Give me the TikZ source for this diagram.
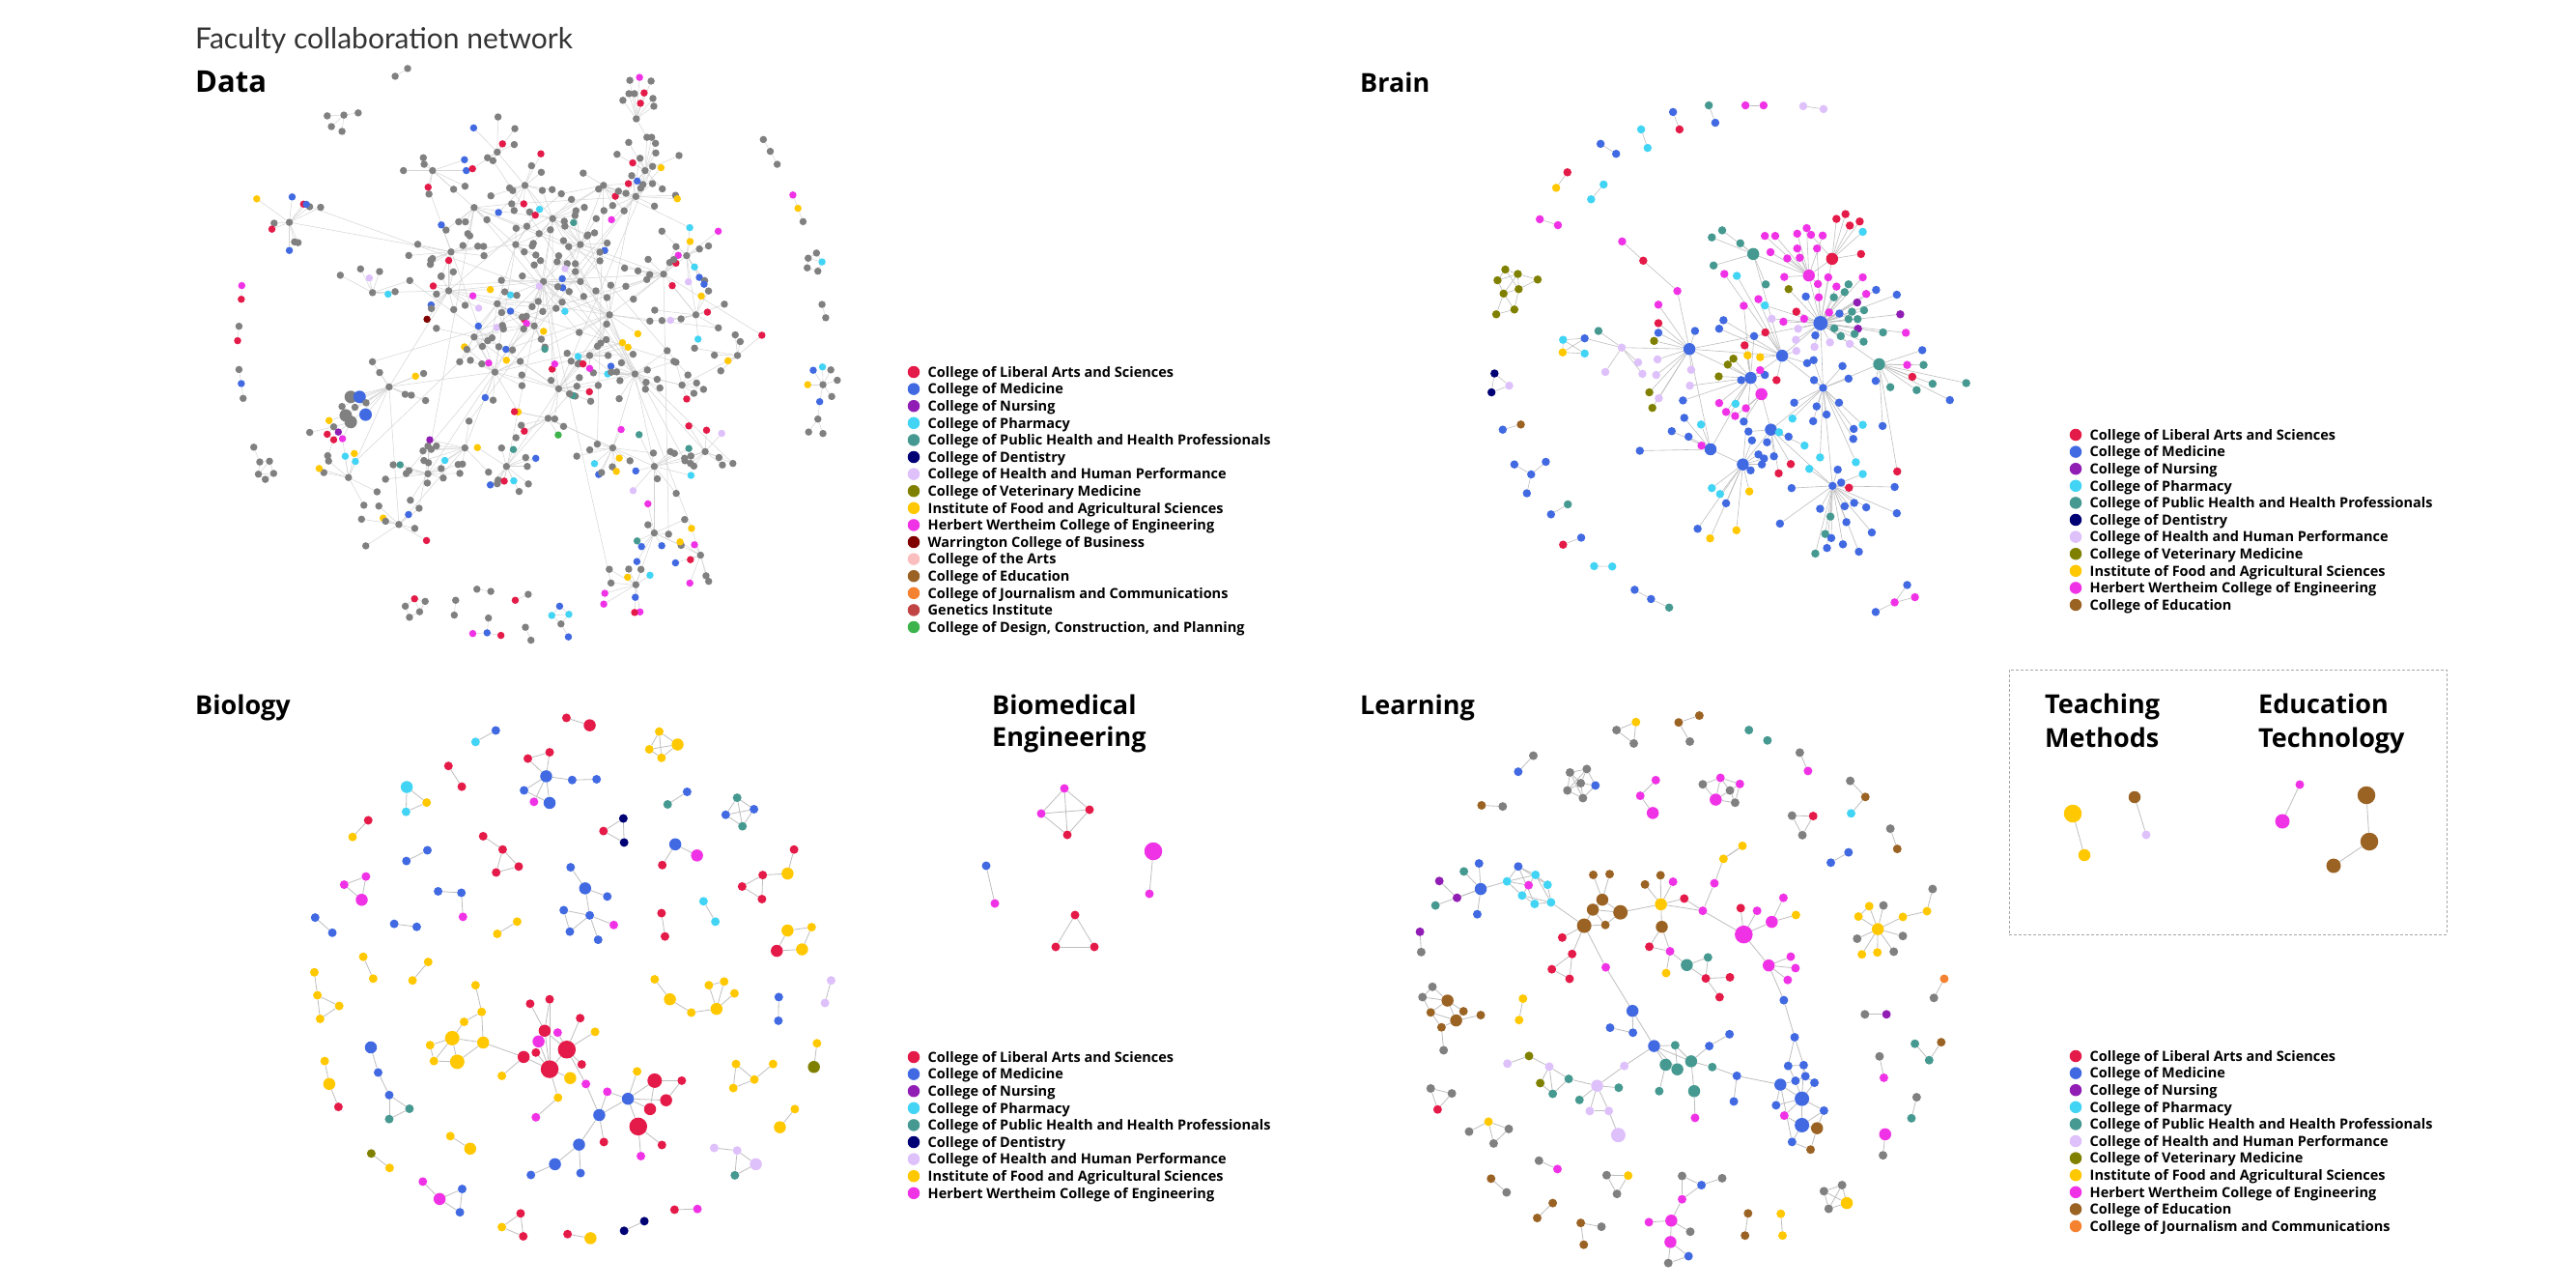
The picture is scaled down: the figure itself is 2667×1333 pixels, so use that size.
\documentclass[tikz,border=0pt]{standalone}
\usepackage{fontspec}
\setmainfont{Open Sans}
\newfontfamily\titlefont{Lato}
\usetikzlibrary{positioning}

\definecolor{lib}{RGB}{228,26,72}
\definecolor{med}{RGB}{65,105,225}
\definecolor{nur}{RGB}{145,30,180}
\definecolor{pha}{RGB}{66,212,244}
\definecolor{pub}{RGB}{70,153,144}
\definecolor{den}{RGB}{0,0,117}
\definecolor{hhp}{RGB}{222,192,250}
\definecolor{vet}{RGB}{128,128,0}
\definecolor{ifa}{RGB}{255,200,0}
\definecolor{eng}{RGB}{240,50,230}
\definecolor{bus}{RGB}{128,0,0}
\definecolor{art}{RGB}{250,190,190}
\definecolor{edu}{RGB}{154,99,36}
\definecolor{jou}{RGB}{245,130,48}
\definecolor{gen}{RGB}{192,68,68}
\definecolor{des}{RGB}{60,180,75}
\definecolor{gr}{RGB}{128,128,128}
\definecolor{edgecol}{RGB}{190,190,190}
\definecolor{dedgecol}{RGB}{212,212,212}

\pgfdeclarelayer{bg}
\pgfdeclarelayer{edges}
\pgfsetlayers{bg,edges,main}

\pgfmathdeclarerandomlist{datacol}{{gr}{gr}{gr}{gr}{gr}{gr}{gr}{gr}{gr}{gr}{gr}{gr}{gr}{gr}{gr}{gr}{gr}{gr}{gr}{gr}{gr}{gr}{gr}{gr}{lib}{lib}{lib}{med}{med}{med}{ifa}{ifa}{eng}{eng}{pub}{pha}{hhp}}

% one legend: name prefix, dot x, first row y, list of colour/text
\newcommand\drawlegend[4]{%
  \foreach \col/\txt [count=\k] in {#4}{
    \node[legdot, fill=\col] (#1d\k) at (#2,{#3+17.6*(\k-1)}) {};
    \node[legtext] (#1t\k) at ([xshift=14.5pt,yshift=-5.2pt]#1d\k.center) {\txt};
  }}

\begin{document}
\begin{tikzpicture}[x=1pt,y=-1pt,
  netdot/.style={circle, inner sep=0pt, draw=none},
  ddot/.style={netdot, minimum size=7.5pt},
  ddotB/.style={netdot, minimum size=13pt},
  bdot/.style={netdot, minimum size=8.5pt},
  dotS/.style={netdot, minimum size=9pt},
  dotM/.style={netdot, minimum size=12.5pt},
  dotB/.style={netdot, minimum size=15pt},
  dotH/.style={netdot, minimum size=18.5pt},
  edge/.style={draw=edgecol, line width=0.8pt},
  dedge/.style={draw=dedgecol, line width=0.5pt},
  head/.style={font=\fontsize{27}{32}\selectfont\bfseries, anchor=base west, inner sep=0pt},
  legdot/.style={netdot, minimum size=12.5pt},
  legtext/.style={font=\fontsize{14.5}{17}\selectfont\bfseries, anchor=base west, inner sep=0pt}]

\useasboundingbox (0,0) rectangle (2667,1333);
\begin{pgfonlayer}{bg}
  \fill[white] (0,0) rectangle (2667,1333);
\end{pgfonlayer}

% titles
\node[font=\titlefont\fontsize{30}{36}\selectfont, text=black!80, anchor=base west, inner sep=0pt] (title) at (202,50) {Faculty collaboration network};
\node[head, font=\fontsize{31}{36}\selectfont\bfseries] (hdata) at (202,95) {Data};
\node[head] (hbrain) at (1408,95) {Brain};
\node[head] (hbio) at (202,739) {Biology};
\node[head] (hlearn) at (1408,739) {Learning};
\node[head] (hbme1) at (1027,739) {Biomedical};
\node[head] (hbme2) at (1027,772) {Engineering};
\node[head] (hteach1) at (2117,738) {Teaching};
\node[head] (hteach2) at (2117,773) {Methods};
\node[head] (hedtech1) at (2338,738) {Education};
\node[head] (hedtech2) at (2338,773) {Technology};

% ---------------- Data ----------------
\pgfmathsetseed{11}
\begin{scope}[shift={(180,100)}, xscale=0.4783, yscale=0.3827]
  \foreach \n/\x/\y in {1/800/500, 2/595/525, 3/695/745, 4/833/790, 5/998/750, 6/943/590,
      7/820/330, 8/1000/270, 9/930/240, 10/1060/480, 11/650/300, 12/466/785, 13/250/340,
      14/1040/1000, 15/1040/1180, 16/1000/1320, 17/487/1157, 18/378/1030, 19/1150/960,
      20/1140/1240, 21/880/400, 22/740/400, 23/560/200, 24/1110/430, 25/430/530, 26/810/870,
      27/630/950, 28/720/1000, 29/1100/780, 30/1130/590, 31/700/150, 32/760/240, 33/1220/700,
      34/550/1020, 35/1020/200, 36/600/420, 37/780/620, 38/900/700, 39/700/560, 40/650/650,
      41/950/950, 42/880/500}{
    \node[ddot, fill=gr] (dh\n) at (\x,\y) {};
    \pgfmathtruncatemacro{\nl}{random(7,13)}
    \expandafter\xdef\csname dnl\n\endcsname{\nl}
    \foreach \m in {1,...,\nl}{
      \pgfmathrandomitem{\col}{datacol}
      \pgfmathsetmacro{\a}{random(0,359)}
      \pgfmathsetmacro{\r}{random(25,95)}
      \node[ddot, fill=\col] (dl\n-\m) at ({\x+\r*cos(\a)},{\y+\r*sin(\a)}) {};
    }
  }
  \foreach \n/\x/\y/\col in {t1/332/52/gr, t2/368/50/gr, t3/399/44/gr, t4/341/81/gr, t5/364/94/gr,
      u1/479/-55/gr, u2/506/-76/gr,
      top/1001/60/gr, v0/1024/110/gr, v1/987/-44/gr, v2/1008/-52/eng, v3/1033/-42/gr, v4/985/-8/gr,
      v5/997/-8/gr, v6/1018/-10/lib, v7/972/10/gr, v8/1010/18/lib, v9/1037/5/gr, v10/1039/26/gr,
      r1/1276/116/gr, r2/1291/148/gr, r3/1306/183/gr, r4/1340/266/eng, r5/1351/302/ifa, r6/1362/338/gr,
      q1/1391/423/gr, q2/1373/437/gr, q3/1403/447/pha, q4/1371/463/gr, q5/1394/472/gr,
      o1/1403/562/gr, o2/1411/598/gr,
      w0/1405/779/gr, w1/1384/740/med, w2/1404/731/pha, w3/1422/739/gr, w4/1372/779/ifa, w5/1436/767/gr,
      w6/1424/811/gr, w7/1398/825/med, w8/1394/872/gr, w9/1374/907/gr, w10/1405/911/gr,
      l1/147/511/eng, l2/146/548/lib, l3/141/621/gr, l4/138/660/lib, l5/141/738/gr, l6/146/776/med, l7/150/816/gr,
      k1/173/948/gr, k2/186/988/gr, k3/207/986/gr, k4/183/1021/gr, k5/216/1019/gr, k6/198/1035/gr,
      b1/521/1358/lib, b2/544/1365/gr, b3/501/1378/gr, b4/532/1393/gr, b5/510/1408/gr,
      b6/610/1362/gr, b7/607/1402/gr, b8/656/1332/gr, b9/686/1338/gr, b10/739/1362/lib, b11/767/1346/gr,
      b12/681/1410/gr, b13/678/1450/med, b14/647/1452/eng, b15/708/1457/lib, b16/761/1435/gr, b17/773/1470/gr,
      b18/835/1378/med, b19/818/1403/pha, b20/855/1400/pha, b21/838/1426/gr, b22/854/1461/med}
    \node[ddot, fill=\col] (dp\n) at (\x,\y) {};
  \foreach \n/\x/\y/\col/\sz in {g1/383/812/gr/ddotB, g2/402/812/med/ddotB, g3/416/828/gr/ddot,
      g4/372/862/gr/ddotB, g5/415/860/med/ddotB, g6/383/880/gr/ddotB, g7/392/840/gr/ddot, g8/364/838/gr/ddot,
      g9/336/876/ifa/ddot, g10/346/893/gr/ddot, g11/332/913/lib/ddot, g12/356/907/nur/ddot,
      g13/346/928/lib/ddot, g14/365/925/eng/ddot, g15/294/908/gr/ddot, g16/333/971/gr/ddot}
    \node[\sz, fill=\col] (dp\n) at (\x,\y) {};
  \node[ddot, fill=bus] (dpbus) at (548,602) {};
  \node[ddot, fill=des] (dpdes) at (832,915) {};
  \node[ddot, fill=nur] (dpnur) at (554,928) {};
\end{scope}
\begin{pgfonlayer}{edges}
  \foreach \n in {1,...,42}{
    \edef\nl{\csname dnl\n\endcsname}
    \foreach \m in {1,...,\nl}
      \draw[dedge] (dh\n) -- (dl\n-\m);
    % a few cross links from leaves to other hubs
    \pgfmathtruncatemacro{\m}{random(1,\nl)}
    \pgfmathtruncatemacro{\o}{random(1,11)}
    \draw[dedge] (dl\n-\m) -- (dh\o);
  }
  \foreach \a/\b in {2/1, 3/1, 4/1, 6/1, 5/6, 7/1, 8/9, 9/7, 10/6, 11/22, 12/3, 13/36, 14/5, 15/14,
      16/15, 17/12, 18/12, 19/14, 20/15, 21/7, 22/1, 23/11, 24/10, 25/2, 26/4, 27/3, 28/26, 29/5, 30/10,
      31/32, 32/7, 33/29, 34/27, 35/8, 36/2, 2/6, 3/6, 4/6, 21/10, 22/3, 11/7, 36/22, 1/21, 4/5, 3/4,
      28/4, 27/17, 34/3, 12/2, 9/21, 24/30, 5/19, 26/14, 37/1, 37/39, 38/6, 38/4, 39/40, 40/3,
      41/5, 41/26, 42/1, 42/6, 37/40, 39/22}
    \draw[dedge] (dh\a) -- (dh\b);
  \foreach \a/\b in {t1/t2, t2/t3, t2/t4, t2/t5, u1/u2, top/v0, top/v1, top/v2, top/v3, top/v4, top/v5,
      top/v6, top/v7, top/v8, top/v9, top/v10, r1/r2, r2/r3, r4/r5, r5/r6, q1/q2, q1/q3, q2/q4, q4/q5,
      q3/q5, q2/q3, o1/o2, w0/w1, w0/w2, w0/w3, w0/w4, w0/w5, w0/w6, w0/w7, w7/w8, w8/w9, w8/w10,
      l1/l2, l3/l4, l5/l6, l6/l7, k1/k2, k2/k3, k2/k4, k3/k5, k4/k6, k5/k6, k4/k5, k3/k4,
      b1/b2, b1/b3, b1/b4, b3/b5, b4/b5, b2/b4, b6/b7, b8/b9, b10/b11, b12/b13, b13/b14, b13/b15,
      b16/b17, b18/b19, b18/b20, b19/b21, b20/b21, b19/b20, b21/b22,
      g4/g9, g6/g10, g6/g12, g10/g11, g12/g13, g6/g14, g10/g15, g13/g16}
    \draw[dedge] (dp\a) -- (dp\b);
  \foreach \g in {g1,g2,g3,g4,g5,g6,g7,g8}
    \draw[dedge] (dh12) -- (dp\g);
  \draw[dedge] (dpv0) -- (dh35);
  \draw[dedge] (dpg14) -- (dh18);
  \draw[dedge] (dpbus) -- (dh2);
  \draw[dedge] (dpdes) -- (dh26);
  \draw[dedge] (dpnur) -- (dh27);
\end{pgfonlayer}

% ---------------- Brain ----------------
\begin{scope}[shift={(1500,150)}, xscale=0.4464, yscale=0.3827]
  \foreach \n/\x/\y/\col/\sz in {1/862/482/med/dotB, 2/558/552/med/dotM, 3/773/570/med/dotM,
      4/700/630/med/dotM, 5/682/864/med/dotM, 6/607/823/med/dotM, 7/868/657/med/bdot,
      8/998/593/pub/dotM, 9/889/308/lib/dotM, 10/835/353/eng/dotM, 11/401/548/hhp/bdot,
      12/890/922/med/bdot, 13/747/770/med/dotM, 14/706/295/pub/dotM, 15/725/674/eng/dotM}
    \node[\sz, fill=\col] (bh\n) at (\x,\y) {};
  \foreach \x/\y/\col/\h [count=\k] in {733/246/eng/10, 757/246/eng/10, 746/290/eng/10, 808/240/eng/10,
      830/225/eng/10, 840/243/eng/9, 867/245/eng/10, 808/280/eng/10, 785/307/eng/10, 814/305/eng/10,
      854/280/eng/1, 899/200/lib/9, 920/187/lib/9, 930/218/lib/9, 953/207/lib/9, 960/235/pha/9,
      956/295/lib/9, 778/357/eng/10, 856/376/eng/10, 880/358/eng/1, 899/383/eng/1, 960/358/eng/1,
      858/412/eng/1, 893/412/pub/1, 918/398/pub/1, 927/377/pub/1, 968/403/eng/1,
      610/250/pub/14, 634/231/pub/14, 676/266/pub/14, 614/326/pub/14, 735/377/pub/14,
      639/349/eng/3, 668/354/pha/3, 788/390/vet/1, 828/410/med/1,
      718/417/eng/3, 733/434/pha/1, 684/435/eng/4, 806/451/lib/1, 882/453/eng/1, 906/456/med/1,
      947/426/nur/1, 949/497/nur/1, 1047/458/nur/1, 935/451/pub/1, 963/447/pub/1, 927/471/pub/1,
      948/471/pub/1, 894/496/pub/1, 909/517/pub/1, 941/511/pub/1, 962/532/pub/1, 1007/507/pub/1,
      1060/508/eng/1, 749/470/hhp/1, 776/478/eng/1, 824/470/eng/1, 810/497/hhp/1, 805/527/hhp/1,
      806/557/hhp/3, 848/546/hhp/1, 884/534/hhp/1, 930/538/hhp/1, 850/515/med/1, 734/507/lib/3,
      708/517/med/4, 991/392/med/1, 1039/405/med/1,
      1063/595/eng/8, 1101/595/pub/8, 1098/555/med/8, 1075/627/lib/8, 1024/655/pub/8, 1085/663/pub/8,
      1122/646/pub/8, 1200/644/pub/8, 1162/690/med/8, 990/638/med/8, 927/632/med/7,
      347/503/pub/11, 363/614/hhp/11, 439/588/hhp/11, 449/619/hhp/11, 484/580/hhp/2, 481/622/hhp/2,
      562/608/hhp/2, 559/651/hhp/4, 486/432/eng/2, 486/482/lib/2, 486/508/med/2, 476/530/vet/2,
      465/669/vet/2, 487/685/hhp/2, 472/711/vet/2, 571/503/med/2, 627/497/med/3, 637/474/med/3,
      733/622/med/4, 722/609/eng/4, 760/636/lib/3, 660/578/vet/4, 647/594/vet/4, 626/626/vet/4,
      693/569/ifa/4, 722/574/ifa/3, 686/542/lib/4, 678/636/med/4,
      543/691/med/4, 546/738/med/6, 517/774/med/6, 556/789/med/6, 443/827/med/6, 627/698/eng/4,
      643/722/eng/4, 664/733/eng/15, 689/712/eng/15, 665/700/pha/4, 684/748/med/15, 585/756/pha/6,
      586/813/eng/6, 695/775/med/13, 766/777/pha/13, 788/789/med/13, 703/799/med/5, 738/804/med/13,
      718/837/med/5, 754/842/med/13, 731/848/med/5, 726/864/med/5, 700/880/med/5, 765/888/lib/13,
      793/863/lib/13, 610/928/pha/5, 629/944/pha/5, 643/969/med/5, 577/1038/med/5, 606/1064/ifa/5,
      697/937/ifa/5, 667/1042/ifa/5, 768/1024/med/12,
      801/697/med/7, 797/740/pha/7, 845/747/med/7, 853/707/med/7, 876/729/med/7, 905/697/med/7,
      847/636/med/7, 831/590/med/3, 846/582/med/7, 913/598/med/7,
      825/813/pha/13, 861/845/pha/7, 836/876/pha/12, 902/878/med/12, 944/858/pha/7, 960/890/pha/12,
      960/757/pha/7, 939/768/med/7, 938/795/med/7, 1006/760/med/8, 1040/883/lib/8, 1034/925/med/12,
      1039/996/med/12, 795/928/med/12, 910/913/med/12, 928/927/lib/12, 918/977/med/12, 940/968/med/12,
      968/980/med/12, 922/1020/med/12, 981/1048/med/12, 951/1100/med/12, 885/1005/pub/12,
      873/1052/pub/12, 887/1063/med/12, 877/1090/med/12, 914/1080/med/12, 850/1105/pub/12, 861/984/med/12}{
    \node[bdot, fill=\col] (bl\k) at (\x,\y) {};
    \expandafter\xdef\csname bhub\k\endcsname{\h}
    \xdef\bleaves{\k}
  }
  \foreach \n/\x/\y/\col in {x1/402/261/eng, x2/451/313/lib, x3/530/395/eng,
      y1/265/527/pha, y2/315/523/med, y3/264/561/ifa, y4/315/564/pha,
      a1/352/-3/med, a2/388/24/med, b1/446/-42/pha, b2/461/8/pha, c1/520/-89/med, c2/535/-42/lib,
      d1/603/-107/pub, d2/618/-60/med, e1/688/-107/eng, e2/730/-107/eng, f1/822/-105/hhp, f2/869/-97/hhp,
      g1/275/74/lib, g2/249/116/ifa, h1/359/107/pha, h2/330/147/pha, i1/211/201/eng, i2/253/217/eng,
      j1/131/337/vet, j2/113/366/vet, j3/160/349/vet, j4/206/364/vet, j5/127/402/vet, j6/162/390/vet,
      j7/110/458/vet, j8/152/445/vet, k1/106/618/den, k2/99/669/den, k3/140/651/hhp,
      l1/125/770/med, l2/167/756/edu, m1/152/864/med, m2/191/891/med, m3/225/857/med, m4/181/942/med,
      n1/237/999/med, n2/276/972/pub, o1/265/1081/lib, o2/307/1062/med, p1/337/1139/pha, p2/379/1140/pha,
      q1/431/1203/med, q2/469/1228/med, q3/511/1251/pub,
      r1/990/1263/med, r2/1034/1237/eng, r3/1063/1190/med, r4/1081/1223/eng}
    \node[bdot, fill=\col] (bp\n) at (\x,\y) {};
\end{scope}
\begin{pgfonlayer}{edges}
  \foreach \k in {1,...,\bleaves}{
    \edef\h{\csname bhub\k\endcsname}
    \draw[edge, line width=0.6pt] (bh\h) -- (bl\k);
  }
  \foreach \a/\b in {1/9, 1/10, 1/3, 1/8, 1/7, 2/3, 2/11, 3/4, 4/6, 4/5, 3/7, 7/12, 5/13, 13/7, 6/5,
      10/14, 9/10, 8/7, 4/15, 15/13, 2/4, 1/2, 14/3, 12/13, 2/6}
    \draw[edge, line width=0.6pt] (bh\a) -- (bh\b);
  \foreach \a/\b in {x1/x2, x2/x3, y1/y2, y1/y4, y3/y4, y3/y2, y1/y3, a1/a2, b1/b2, c1/c2, d1/d2,
      e1/e2, f1/f2, g1/g2, h1/h2, i1/i2, j1/j2, j1/j3, j2/j3, j1/j6, j2/j5, j3/j6, j3/j4, j6/j4, j5/j6,
      j5/j7, j6/j8, j7/j8, j5/j8, j3/j5, k1/k2, k1/k3, k2/k3, l1/l2, m1/m2, m2/m3, m2/m4, n1/n2,
      o1/o2, p1/p2, q1/q2, q2/q3, r1/r2, r2/r3, r2/r4}
    \draw[edge, line width=0.6pt] (bp\a) -- (bp\b);
  \draw[edge, line width=0.6pt] (bpx3) -- (bh2);
  \draw[edge, line width=0.6pt] (bpy2) -- (bh11);
\end{pgfonlayer}

% ---------------- Biology ----------------
\begin{scope}[shift={(280,720)}, xscale=0.3954, yscale=0.3827]
  \foreach \n/\x/\y/\col/\sz in {a1/775/60/lib/dotS, a2/836/80/lib/dotM, b1/537/125/pha/dotS, b2/590/94/med/dotS,
      c1/1018/97/ifa/dotS, c2/992/145/ifa/dotS, c3/1066/132/ifa/dotM, c4/1024/168/ifa/dotS,
      d1/466/190/lib/dotS, d2/501/246/lib/dotS,
      e1/674/170/lib/dotS, e2/731/153/lib/dotS, e3/722/218/med/dotM, e4/664/256/med/dotS,
      e5/690/287/eng/dotS, e6/731/290/med/dotM, e7/790/228/med/dotS, e8/854/226/med/dotS,
      f1/357/247/pha/dotM, f2/355/314/pha/dotS, f3/409/289/ifa/dotS, h1/1040/294/pub/dotS, h2/1091/260/med/dotS,
      i1/1222/276/pub/dotS, i2/1192/322/med/dotS, i3/1266/307/med/dotS, i4/1236/353/pub/dotS,
      j1/256/337/lib/dotS, j2/215/382/ifa/dotS, k1/872/366/lib/dotS, k2/924/332/den/dotS, k3/926/397/den/dotS,
      l1/356/447/med/dotS, l2/411/418/med/dotS,
      m1/557/380/lib/dotS, m2/608/416/lib/dotS, m3/591/478/lib/dotS, m4/650/462/lib/dotS,
      n1/1060/402/med/dotM, n2/1117/432/eng/dotM, n3/1026/458/lib/dotS,
      o1/1371/416/lib/dotS, o2/1354/481/ifa/dotM, o3/1289/485/lib/dotS, o4/1235/516/lib/dotS, o5/1287/550/lib/dotS,
      p1/193/511/eng/dotS, p2/250/489/eng/dotS, p3/239/552/eng/dotM,
      q1/439/529/med/dotS, q2/500/533/med/dotS, q3/504/598/eng/dotS,
      r1/786/464/med/dotS, r2/824/521/med/dotM, r3/882/543/med/dotS, r4/836/594/med/dotS,
      r5/768/580/med/dotS, r6/784/638/med/dotS, r7/899/620/eng/dotS, r8/858/660/med/dotS,
      s1/1134/556/pha/dotS, s2/1165/611/pha/dotS, t1/1024/588/lib/dotS, t2/1033/651/lib/dotS,
      u1/117/600/med/dotS, u2/162/641/med/dotS, v1/324/617/med/dotS, v2/383/625/med/dotS,
      w1/594/644/ifa/dotS, w2/646/611/ifa/dotS,
      x1/1354/635/ifa/dotM, x2/1417/626/ifa/dotS, x3/1392/686/ifa/dotM, x4/1326/690/lib/dotM,
      y1/243/706/ifa/dotS, y2/269/765/ifa/dotS, z1/413/720/ifa/dotS, z2/372/770/ifa/dotS,
      aa1/115/748/ifa/dotS, aa2/123/810/ifa/dotS, aa3/180/839/ifa/dotS, aa4/130/874/ifa/dotS,
      ab1/1468/770/hhp/dotS, ab2/1452/831/hhp/dotS, ac1/1331/815/med/dotS, ac2/1330/879/med/dotS,
      ad1/1006/767/ifa/dotS, ad2/1046/821/ifa/dotM, ad3/1102/857/ifa/dotS, ad4/1168/847/ifa/dotM,
      ad5/1148/783/ifa/dotS, ad6/1188/773/ifa/dotS, ad7/1215/805/ifa/dotS,
      cb1/537/783/ifa/dotS, cb2/553/855/ifa/dotS, cb3/507/882/ifa/dotS, cb4/476/926/ifa/dotB,
      cb5/418/945/ifa/dotS, cb6/428/988/ifa/dotS, cb7/489/990/ifa/dotB, cb8/557/938/ifa/dotM,
      cb9/663/977/lib/dotM, cb10/606/1028/ifa/dotS, cb11/731/1010/lib/dotH, cb12/680/833/lib/dotS,
      cb13/731/821/lib/dotS, cb14/718/906/lib/dotM, cb15/702/935/eng/dotM, cb16/695/965/lib/dotS,
      cb17/752/911/eng/dotS, cb18/776/957/lib/dotH, cb19/811/872/lib/dotS, cb20/850/909/ifa/dotS,
      cb21/815/997/lib/dotS, cb22/785/1034/ifa/dotM, cb23/753/1087/ifa/dotS, cb24/695/1140/eng/dotS,
      cb25/826/1050/eng/dotS, cb26/861/1134/med/dotM, cb27/882/1071/eng/dotS, cb28/936/1090/med/dotM,
      cb29/808/1214/med/dotM, cb30/745/1267/med/dotM, cb31/682/1296/med/dotS, cb32/812/1291/med/dotS,
      cb33/873/1207/lib/dotS, cb34/960/1016/ifa/dotS, cb35/1006/1041/lib/dotB, cb36/1036/1094/lib/dotM,
      cb37/994/1118/lib/dotM, cb38/1077/1041/lib/dotS, cb39/963/1165/lib/dotH, cb40/970/1245/eng/dotS,
      cb41/1025/1215/lib/dotS,
      ae1/1431/940/ifa/dotS, ae2/1423/1004/vet/dotM,
      af1/263/951/med/dotM, af2/282/1019/med/dotS, af3/311/1080/med/dotS, af4/364/1117/pub/dotS, af5/311/1145/pub/dotS,
      ag1/142/988/ifa/dotS, ag2/154/1050/ifa/dotM, ag3/178/1112/lib/dotS,
      ah1/1219/996/ifa/dotS, ah2/1267/1038/ifa/dotS, ah3/1212/1061/ifa/dotS, ah4/1316/996/ifa/dotS,
      ai1/1373/1118/ifa/dotS, ai2/1334/1167/ifa/dotM, aj1/471/1191/ifa/dotS, aj2/523/1225/ifa/dotM,
      ak1/264/1238/vet/dotS, ak2/312/1277/ifa/dotS,
      al1/1162/1223/hhp/dotS, al2/1222/1230/hhp/dotS, al3/1271/1267/hhp/dotM, al4/1216/1297/pub/dotS,
      am1/399/1314/eng/dotS, am2/443/1361/eng/dotM, am3/502/1334/med/dotS, am4/496/1397/med/dotS,
      an1/655/1400/lib/dotS, an2/606/1437/ifa/dotS, an3/662/1462/lib/dotS,
      ao1/778/1456/lib/dotS, ao2/838/1467/ifa/dotM, ap1/926/1447/den/dotS, ap2/979/1421/den/dotS,
      aq1/1058/1390/lib/dotS, aq2/1118/1388/eng/dotS}
    \node[\sz, fill=\col] (g\n) at (\x,\y) {};
\end{scope}
\begin{pgfonlayer}{edges}
  \foreach \a/\b in {a1/a2, b1/b2, c1/c2, c1/c3, c1/c4, c2/c3, c3/c4, c2/c4, d1/d2,
      e1/e2, e1/e3, e2/e3, e3/e4, e3/e5, e3/e6, e3/e7, e7/e8, e4/e6, f1/f2, f1/f3, f2/f3, h1/h2,
      i1/i2, i1/i3, i1/i4, i2/i3, i2/i4, i3/i4, j1/j2, k1/k2, k1/k3, k2/k3, l1/l2,
      m1/m2, m2/m3, m2/m4, m3/m4, n1/n2, n1/n3, o1/o2, o2/o3, o3/o4, o4/o5, o3/o5,
      p1/p2, p1/p3, p2/p3, q1/q2, q2/q3, r1/r2, r2/r3, r2/r4, r4/r5, r4/r6, r4/r7, r4/r8, r5/r6,
      s1/s2, t1/t2, u1/u2, v1/v2, w1/w2, x1/x2, x2/x3, x3/x4, x4/x1, y1/y2, z1/z2,
      aa1/aa2, aa2/aa3, aa3/aa4, aa2/aa4, ab1/ab2, ac1/ac2,
      ad1/ad2, ad2/ad3, ad3/ad4, ad4/ad5, ad4/ad6, ad4/ad7, ad5/ad6,
      cb1/cb2, cb2/cb8, cb2/cb3, cb3/cb4, cb4/cb5, cb4/cb6, cb4/cb7, cb5/cb6, cb6/cb7, cb7/cb8,
      cb4/cb8, cb8/cb9, cb9/cb10, cb9/cb11, cb12/cb14, cb13/cb14, cb14/cb11, cb14/cb18, cb15/cb11,
      cb16/cb11, cb17/cb18, cb18/cb19, cb18/cb20, cb18/cb21, cb11/cb22, cb11/cb18, cb11/cb23,
      cb23/cb24, cb18/cb25, cb25/cb26, cb26/cb27, cb27/cb28, cb26/cb28, cb26/cb29, cb29/cb30,
      cb30/cb31, cb29/cb32, cb26/cb33, cb28/cb34, cb28/cb35, cb28/cb36, cb28/cb37, cb35/cb38,
      cb36/cb38, cb35/cb37, cb28/cb39, cb39/cb40, cb39/cb41, cb13/cb11,
      ae1/ae2, af1/af2, af2/af3, af3/af4, af4/af5, af3/af5, ag1/ag2, ag2/ag3,
      ah1/ah2, ah1/ah3, ah3/ah2, ah2/ah4, ai1/ai2, aj1/aj2, ak1/ak2,
      al1/al2, al2/al3, al3/al4, al2/al4, am1/am2, am2/am3, am2/am4, am3/am4,
      an1/an2, an2/an3, an1/an3, ao1/ao2, ap1/ap2, aq1/aq2}
    \draw[edge] (g\a) -- (g\b);
\end{pgfonlayer}

% ---------------- Learning ----------------
\begin{scope}[shift={(1400,720)}, xscale=0.4464, yscale=0.3954]
  \foreach \n/\x/\y/\col/\sz in {a1/613/90/gr/dotS, a2/658/69/ifa/dotS, a3/653/125/gr/dotS,
      b1/757/70/edu/dotS, b2/805/52/edu/dotS, b3/783/120/gr/dotS, c1/920/90/pub/dotS, c2/963/117/pub/dotS,
      d1/420/157/gr/dotS, d2/385/199/med/dotS,
      e1/505/201/gr/dotS, e2/544/192/gr/dotS, e3/530/229/gr/dotS, e4/564/235/med/dotS, e5/499/248/gr/dotS, e6/535/268/gr/dotS,
      f1/704/221/eng/dotS, f2/668/262/eng/dotS, f3/697/307/eng/dotM,
      h1/813/232/gr/dotS, h2/854/215/eng/dotS, h3/899/231/eng/dotS, h4/876/248/gr/dotS, h5/843/272/eng/dotM, h6/888/280/gr/dotS,
      i1/1038/149/gr/dotS, i2/1057/197/eng/dotS, j1/1155/223/gr/dotS, j2/1190/265/edu/dotS, j3/1157/308/pha/dotS,
      k1/300/287/edu/dotS, k2/349/290/gr/dotS, m1/1020/314/gr/dotS, m2/1069/315/lib/dotS, m3/1044/365/gr/dotS,
      n1/1248/348/gr/dotS, n2/1264/401/edu/dotS, o1/1110/437/med/dotS, o2/1151/410/med/dotS,
      c1/905/393/ifa/dotS, c2/861/427/ifa/dotS, c3/840/491/eng/dotS, c4/813/563/eng/dotS,
      c5/202/485/nur/dotS, c6/243/529/nur/dotS, c7/298/506/med/dotM, c8/259/460/pub/dotS, c9/294/439/med/dotS,
      c10/193/549/pub/dotS, c11/290/572/med/dotS, c12/385/447/med/dotS, c13/359/486/pha/dotS,
      c14/425/469/pha/dotS, c15/409/496/eng/dotS, c16/453/495/pha/dotS, c17/394/523/pha/dotS,
      c18/423/545/pha/dotS, c19/461/541/pha/dotS, c20/538/602/edu/dotB, c21/559/469/edu/dotS,
      c22/597/467/edu/dotS, c23/580/534/edu/dotM, c24/558/560/edu/dotM, c25/622/567/edu/dotB,
      c26/587/600/edu/dotS, c27/716/546/ifa/dotM, c28/679/494/edu/dotS, c29/715/470/edu/dotS,
      c30/744/487/eng/dotS, c31/770/531/lib/dotS, c32/718/605/edu/dotM, c33/487/633/lib/dotS,
      c34/510/676/lib/dotS, c35/463/716/lib/dotS, c36/504/741/lib/dotS, c37/689/657/lib/dotS,
      c38/737/669/eng/dotS, c39/776/705/pub/dotM, c40/728/726/ifa/dotS, c41/825/685/pub/dotS,
      c42/820/740/lib/dotS, c43/876/737/lib/dotS, c44/852/789/lib/dotS, c45/908/625/eng/dotH,
      c46/901/556/lib/dotS, c47/939/563/eng/dotS, c48/973/592/eng/dotM, c49/1000/529/eng/dotS,
      c50/1029/574/ifa/dotS, c51/966/706/eng/dotM, c52/1017/683/eng/dotS, c53/1028/713/eng/dotS,
      c54/1010/744/eng/dotS, c55/1001/797/med/dotS, c56/1026/894/med/dotS,
      c57/1011/969/med/dotS, c58/1047/967/med/dotS, c59/1051/996/med/dotS, c60/1028/1008/med/dotS,
      c61/993/1018/med/dotM, c62/1072/1013/med/dotS, c63/1043/1055/med/dotB, c64/983/1072/med/dotS,
      c65/1002/1099/eng/dotS, c66/1094/1086/med/dotS, c67/1043/1124/med/dotB, c68/1078/1132/edu/dotM,
      c69/1020/1168/med/dotS, c70/1063/1188/edu/dotS,
      c71/588/711/eng/dotS, c72/650/825/med/dotM, c73/651/882/med/dotS, c74/598/869/med/dotS,
      c75/700/917/med/dotM, c76/749/915/pub/dotS, c77/727/966/pub/dotM, c78/754/978/pub/dotM,
      c79/786/957/pub/dotM, c80/712/1035/pub/dotS, c81/835/972/pub/dotS, c82/793/1035/pub/dotM,
      c83/795/1105/eng/dotS, c84/828/917/med/dotS, c85/875/886/med/dotS, c86/892/995/med/dotS,
      c87/885/1062/med/dotS, c88/631/969/hhp/dotS, c89/568/1021/hhp/dotM, c90/618/1026/pub/dotS,
      c91/527/1058/pub/dotS, c92/551/1087/hhp/dotS, c93/595/1087/hhp/dotS, c94/617/1150/hhp/dotB,
      c95/502/1003/pub/dotS, c96/457/971/hhp/dotS, c97/410/943/vet/dotS, c98/360/963/hhp/dotS,
      c99/436/1014/vet/dotS, c100/465/1042/pub/dotS,
      p1/157/618/nur/dotS, p2/160/671/gr/dotS, q1/396/793/ifa/dotS, q2/387/849/ifa/dotS,
      r1/186/762/gr/dotS, r2/163/789/gr/dotS, r3/221/798/edu/dotM, r4/182/829/edu/dotS, r5/258/826/edu/dotS,
      r6/241/850/edu/dotM, r7/207/868/edu/dotS, r8/298/836/edu/dotS, r9/212/928/gr/dotS,
      s1/182/1028/gr/dotS, s2/231/1041/gr/dotS, s3/198/1083/lib/dotS,
      t1/316/1115/ifa/dotS, t2/271/1141/gr/dotS, t3/363/1134/gr/dotS, t4/328/1172/gr/dotS,
      u1/433/1217/gr/dotS, u2/476/1239/eng/dotS, v1/322/1264/edu/dotS, v2/358/1300/gr/dotS,
      w1/590/1255/gr/dotS, w2/640/1256/ifa/dotS, w3/614/1304/gr/dotS,
      x1/465/1328/edu/dotS, x2/429/1367/edu/dotS, y1/530/1380/edu/dotS, y2/578/1390/gr/dotS, y3/537/1437/edu/dotS,
      z1/765/1257/gr/dotS, z2/765/1318/eng/dotS, z3/810/1281/med/dotS, z4/858/1263/gr/dotS,
      z5/740/1374/eng/dotM, z6/688/1378/eng/dotS, z7/784/1403/gr/dotS, z8/738/1430/eng/dotM,
      z9/733/1485/gr/dotS, z10/780/1467/med/dotS,
      aa1/918/1355/edu/dotS, aa2/911/1413/edu/dotS, ab1/994/1356/ifa/dotS, ab2/998/1413/ifa/dotS,
      ac1/1094/1297/gr/dotS, ac2/1136/1281/gr/dotS, ac3/1147/1328/ifa/dotM, ac4/1105/1343/gr/dotS,
      ad1/1219/611/ifa/dotM, ad2/1199/551/ifa/dotS, ad3/1232/549/gr/dotS, ad4/1174/578/ifa/dotS,
      ad5/1277/579/ifa/dotS, ad6/1171/636/gr/dotS, ad7/1277/629/gr/dotS, ad8/1182/677/ifa/dotS,
      ad9/1218/672/ifa/dotS, ad10/1256/670/gr/dotS, ad11/1333/564/ifa/dotS, ad12/1346/506/gr/dotS,
      ae1/1373/741/jou/dotS, ae2/1349/791/gr/dotS, af1/1189/834/gr/dotS, af2/1239/834/nur/dotS,
      ag1/1305/911/pub/dotS, ag2/1338/954/pub/dotS, ag3/1366/907/edu/dotS,
      ah1/1223/944/gr/dotS, ah2/1233/1000/eng/dotS, ai1/1309/1051/gr/dotS, ai2/1297/1106/pub/dotS,
      aj1/1236/1148/eng/dotM, aj2/1231/1203/gr/dotS}
    \node[\sz, fill=\col] (l\n) at (\x,\y) {};
\end{scope}
\begin{pgfonlayer}{edges}
  \foreach \a/\b in {a1/a2, a2/a3, a1/a3, b1/b2, b1/b3, c1/c2, d1/d2,
      e1/e2, e1/e3, e1/e5, e2/e3, e2/e4, e3/e4, e3/e5, e3/e6, e4/e6, e5/e6, e1/e6, e2/e5,
      f1/f2, f2/f3, h1/h2, h1/h5, h2/h3, h2/h4, h2/h5, h3/h4, h4/h5, h4/h6, h5/h6, h3/h6,
      i1/i2, j1/j2, j2/j3, k1/k2, m1/m2, m2/m3, m1/m3, n1/n2, o1/o2,
      c1/c2, c2/c3, c3/c4, c5/c6, c6/c7, c8/c7, c9/c7, c10/c7, c11/c7, c7/c13, c12/c13, c12/c14,
      c12/c16, c13/c14, c13/c17, c13/c15, c14/c16, c14/c15, c15/c17, c16/c19, c17/c18, c18/c19,
      c14/c19, c17/c19, c12/c18, c19/c20, c21/c23, c22/c23, c23/c24, c23/c25, c24/c25, c24/c26,
      c26/c25, c20/c24, c20/c26, c25/c27, c27/c28, c27/c29, c27/c30, c27/c31, c27/c32, c31/c4,
      c27/c4, c20/c33, c20/c34, c34/c35, c35/c36, c34/c36, c32/c37, c32/c38, c37/c38, c38/c39,
      c38/c40, c39/c41, c39/c42, c41/c42, c42/c43, c42/c44, c4/c45, c45/c46, c45/c47, c45/c48,
      c48/c49, c48/c50, c45/c51, c51/c52, c51/c53, c51/c54, c51/c55, c55/c56,
      c56/c57, c56/c58, c57/c58, c57/c60, c58/c59, c59/c60, c59/c62, c60/c61, c60/c63, c61/c63,
      c61/c64, c62/c63, c63/c64, c63/c65, c63/c66, c63/c67, c65/c67, c66/c67, c67/c68, c67/c69,
      c68/c70, c69/c70, c61/c69, c66/c68, c58/c63,
      c20/c71, c71/c72, c72/c73, c73/c74, c72/c75, c75/c76, c75/c77, c75/c78, c75/c79, c76/c79,
      c77/c80, c79/c82, c82/c83, c79/c84, c84/c85, c79/c81, c81/c86, c86/c87, c86/c61, c76/c78,
      c75/c88, c88/c89, c89/c90, c89/c91, c89/c92, c89/c93, c92/c93, c93/c94, c89/c95, c95/c96,
      c96/c97, c97/c98, c96/c99, c99/c100, c96/c100, c95/c100,
      p1/p2, q1/q2, r1/r3, r2/r3, r1/r2, r3/r4, r3/r5, r3/r6, r4/r7, r7/r6, r5/r6, r6/r8, r7/r9,
      r4/r6, r2/r4, s1/s2, s2/s3, s1/s3, t1/t2, t1/t3, t3/t4, t1/t4, u1/u2, v1/v2,
      w1/w2, w2/w3, w1/w3, x1/x2, y1/y2, y1/y3, z1/z2, z1/z3, z3/z4, z3/z2, z2/z5, z5/z6, z5/z7,
      z5/z8, z8/z9, z8/z10, z9/z10, aa1/aa2, ab1/ab2, ac1/ac2, ac2/ac3, ac3/ac4, ac4/ac1, ac2/ac4,
      ac1/ac3, ad1/ad2, ad1/ad3, ad1/ad4, ad1/ad5, ad1/ad6, ad1/ad7, ad1/ad8, ad1/ad9, ad1/ad10,
      ad2/ad4, ad5/ad11, ad11/ad12, ae1/ae2, af1/af2, ag1/ag2, ag2/ag3, ah1/ah2, ai1/ai2, aj1/aj2}
    \draw[edge] (l\a) -- (l\b);
\end{pgfonlayer}

% ---------------- Biomedical Engineering ----------------
\foreach \n/\x/\y/\col/\sz in {1/1102/816/eng/dotS, 2/1078/842/eng/dotS, 3/1128/838/lib/dotS,
    4/1105/864/lib/dotS, 5/1021/896/med/dotS, 6/1030/935/eng/dotS, 7/1194/881/eng/dotH,
    8/1190/925/eng/dotS, 9/1113/947/lib/dotS, 10/1093/980/lib/dotS, 11/1133/980/lib/dotS}
  \node[\sz, fill=\col] (bme\n) at (\x,\y) {};
\begin{pgfonlayer}{edges}
  \foreach \a/\b in {1/2, 1/3, 1/4, 2/3, 2/4, 3/4, 5/6, 7/8, 9/10, 9/11, 10/11}
    \draw[edge] (bme\a) -- (bme\b);
\end{pgfonlayer}

% ---------------- Teaching Methods / Education Technology ----------------
\node[draw=gray!70, densely dashed, line width=0.7pt, minimum width=453pt, minimum height=274pt, inner sep=0pt] (edubox) at (2306.5,830) {};
\foreach \n/\x/\y/\col/\sz in {tm1/2146/842/ifa/dotH, tm2/2158/885/ifa/dotM, tm3/2210/825/edu/dotM,
    tm4/2222/864/hhp/dotS, et1/2381/812/eng/dotS, et2/2363/850/eng/dotB, et3/2450/823/edu/dotH,
    et4/2453/871/edu/dotH, et5/2416/896/edu/dotB}
  \node[\sz, fill=\col] (\n) at (\x,\y) {};
\begin{pgfonlayer}{edges}
  \draw[edge] (tm1) -- (tm2);
  \draw[edge] (tm3) -- (tm4);
  \draw[edge] (et1) -- (et2);
  \draw[edge] (et3) -- (et4);
  \draw[edge] (et4) -- (et5);
\end{pgfonlayer}

% ---------------- legends ----------------
\drawlegend{dleg}{946}{385}{lib/College of Liberal Arts and Sciences, med/College of Medicine,
  nur/College of Nursing, pha/College of Pharmacy, pub/College of Public Health and Health Professionals,
  den/College of Dentistry, hhp/College of Health and Human Performance, vet/College of Veterinary Medicine,
  ifa/Institute of Food and Agricultural Sciences, eng/Herbert Wertheim College of Engineering,
  bus/Warrington College of Business, art/College of the Arts, edu/College of Education,
  jou/College of Journalism and Communications, gen/Genetics Institute,
  des/{College of Design, Construction, and Planning}}
\drawlegend{bleg}{2149}{450}{lib/College of Liberal Arts and Sciences, med/College of Medicine,
  nur/College of Nursing, pha/College of Pharmacy, pub/College of Public Health and Health Professionals,
  den/College of Dentistry, hhp/College of Health and Human Performance, vet/College of Veterinary Medicine,
  ifa/Institute of Food and Agricultural Sciences, eng/Herbert Wertheim College of Engineering,
  edu/College of Education}
\drawlegend{gleg}{946}{1094}{lib/College of Liberal Arts and Sciences, med/College of Medicine,
  nur/College of Nursing, pha/College of Pharmacy, pub/College of Public Health and Health Professionals,
  den/College of Dentistry, hhp/College of Health and Human Performance,
  ifa/Institute of Food and Agricultural Sciences, eng/Herbert Wertheim College of Engineering}
\drawlegend{lleg}{2149}{1093}{lib/College of Liberal Arts and Sciences, med/College of Medicine,
  nur/College of Nursing, pha/College of Pharmacy, pub/College of Public Health and Health Professionals,
  hhp/College of Health and Human Performance, vet/College of Veterinary Medicine,
  ifa/Institute of Food and Agricultural Sciences, eng/Herbert Wertheim College of Engineering,
  edu/College of Education, jou/College of Journalism and Communications}
\end{tikzpicture}
\end{document}
